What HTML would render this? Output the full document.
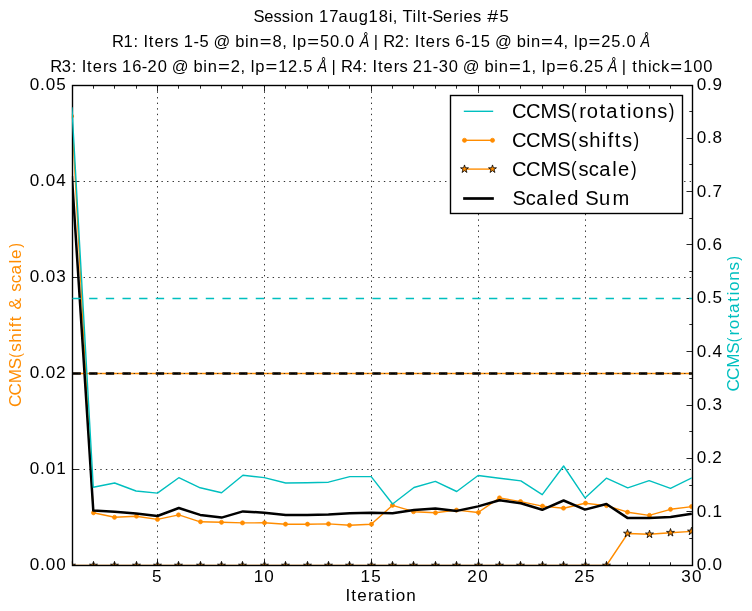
<!DOCTYPE html><html><head><meta charset="utf-8"><title>CCMS</title>
<style>html,body{margin:0;padding:0;background:#fff}svg{display:block;will-change:transform}text{font-family:"Liberation Sans",sans-serif;fill:#000}</style></head><body>
<svg width="752" height="611" viewBox="0 0 752 611">
<rect width="752" height="611" fill="#fff"/>
<defs><clipPath id="c"><rect x="71.9" y="85.5" width="620" height="480"/></clipPath><clipPath id="c2"><rect x="71.9" y="85.5" width="620" height="480"/></clipPath></defs>
<g stroke="#000" stroke-opacity="0.8" stroke-width="1" stroke-dasharray="1.39 4.17" fill="none">
<path d="M157.50 565.50V85.50"/>
<path d="M264.50 565.50V85.50"/>
<path d="M371.50 565.50V85.50"/>
<path d="M478.50 565.50V85.50"/>
<path d="M585.50 565.50V85.50"/>
<path d="M72.50 469.50H692.50"/>
<path d="M72.50 373.50H692.50"/>
<path d="M72.50 277.50H692.50"/>
<path d="M72.50 181.50H692.50"/>
</g>
<g clip-path="url(#c)" fill="none" stroke-linejoin="round">
<path d="M72.50 373.5H692.50" stroke="#ff8c00" stroke-width="1.39"/>
<polyline points="71.90,116.20 93.28,512.80 114.66,517.30 136.04,516.20 157.42,519.40 178.80,514.90 200.18,521.80 221.56,522.30 242.93,522.90 264.31,522.80 285.69,524.20 307.07,524.20 328.45,523.90 349.83,525.30 371.21,524.20 392.59,505.30 413.97,511.70 435.35,512.80 456.73,510.10 478.11,512.50 499.49,497.90 520.87,501.60 542.24,506.10 563.62,508.20 585.00,503.20 606.38,505.60 627.76,512.20 649.14,515.40 670.52,509.30 691.90,506.60" stroke="#ff8c00" stroke-width="1.39"/>
<circle cx="71.50" cy="116.20" r="2.08" fill="#ff8c00" stroke="#ff8c00" stroke-width="0.69"/>
<circle cx="93.50" cy="512.80" r="2.08" fill="#ff8c00" stroke="#ff8c00" stroke-width="0.69"/>
<circle cx="114.50" cy="517.30" r="2.08" fill="#ff8c00" stroke="#ff8c00" stroke-width="0.69"/>
<circle cx="136.50" cy="516.20" r="2.08" fill="#ff8c00" stroke="#ff8c00" stroke-width="0.69"/>
<circle cx="157.50" cy="519.40" r="2.08" fill="#ff8c00" stroke="#ff8c00" stroke-width="0.69"/>
<circle cx="178.50" cy="514.90" r="2.08" fill="#ff8c00" stroke="#ff8c00" stroke-width="0.69"/>
<circle cx="200.50" cy="521.80" r="2.08" fill="#ff8c00" stroke="#ff8c00" stroke-width="0.69"/>
<circle cx="221.50" cy="522.30" r="2.08" fill="#ff8c00" stroke="#ff8c00" stroke-width="0.69"/>
<circle cx="242.50" cy="522.90" r="2.08" fill="#ff8c00" stroke="#ff8c00" stroke-width="0.69"/>
<circle cx="264.50" cy="522.80" r="2.08" fill="#ff8c00" stroke="#ff8c00" stroke-width="0.69"/>
<circle cx="285.50" cy="524.20" r="2.08" fill="#ff8c00" stroke="#ff8c00" stroke-width="0.69"/>
<circle cx="307.50" cy="524.20" r="2.08" fill="#ff8c00" stroke="#ff8c00" stroke-width="0.69"/>
<circle cx="328.50" cy="523.90" r="2.08" fill="#ff8c00" stroke="#ff8c00" stroke-width="0.69"/>
<circle cx="349.50" cy="525.30" r="2.08" fill="#ff8c00" stroke="#ff8c00" stroke-width="0.69"/>
<circle cx="371.50" cy="524.20" r="2.08" fill="#ff8c00" stroke="#ff8c00" stroke-width="0.69"/>
<circle cx="392.50" cy="505.30" r="2.08" fill="#ff8c00" stroke="#ff8c00" stroke-width="0.69"/>
<circle cx="413.50" cy="511.70" r="2.08" fill="#ff8c00" stroke="#ff8c00" stroke-width="0.69"/>
<circle cx="435.50" cy="512.80" r="2.08" fill="#ff8c00" stroke="#ff8c00" stroke-width="0.69"/>
<circle cx="456.50" cy="510.10" r="2.08" fill="#ff8c00" stroke="#ff8c00" stroke-width="0.69"/>
<circle cx="478.50" cy="512.50" r="2.08" fill="#ff8c00" stroke="#ff8c00" stroke-width="0.69"/>
<circle cx="499.50" cy="497.90" r="2.08" fill="#ff8c00" stroke="#ff8c00" stroke-width="0.69"/>
<circle cx="520.50" cy="501.60" r="2.08" fill="#ff8c00" stroke="#ff8c00" stroke-width="0.69"/>
<circle cx="542.50" cy="506.10" r="2.08" fill="#ff8c00" stroke="#ff8c00" stroke-width="0.69"/>
<circle cx="563.50" cy="508.20" r="2.08" fill="#ff8c00" stroke="#ff8c00" stroke-width="0.69"/>
<circle cx="585.50" cy="503.20" r="2.08" fill="#ff8c00" stroke="#ff8c00" stroke-width="0.69"/>
<circle cx="606.50" cy="505.60" r="2.08" fill="#ff8c00" stroke="#ff8c00" stroke-width="0.69"/>
<circle cx="627.50" cy="512.20" r="2.08" fill="#ff8c00" stroke="#ff8c00" stroke-width="0.69"/>
<circle cx="649.50" cy="515.40" r="2.08" fill="#ff8c00" stroke="#ff8c00" stroke-width="0.69"/>
<circle cx="670.50" cy="509.30" r="2.08" fill="#ff8c00" stroke="#ff8c00" stroke-width="0.69"/>
<circle cx="691.50" cy="506.60" r="2.08" fill="#ff8c00" stroke="#ff8c00" stroke-width="0.69"/>
<polyline points="71.90,565.50 93.28,565.50 114.66,565.50 136.04,565.50 157.42,565.50 178.80,565.50 200.18,565.50 221.56,565.50 242.93,565.50 264.31,565.50 285.69,565.50 307.07,565.50 328.45,565.50 349.83,565.50 371.21,565.50 392.59,565.50 413.97,565.50 435.35,565.50 456.73,565.50 478.11,565.50 499.49,565.50 520.87,565.50 542.24,565.50 563.62,565.50 585.00,565.50 606.38,565.50 627.76,533.50 649.14,534.30 670.52,532.70 691.90,531.40" stroke="#ff8c00" stroke-width="1.39"/>
<polygon points="71.50,561.33 72.44,564.21 75.47,564.21 73.01,565.99 73.95,568.87 71.50,567.09 69.05,568.87 69.99,565.99 67.53,564.21 70.56,564.21" fill="#ff8c00" stroke="#000" stroke-width="0.8" stroke-linejoin="miter"/>
<polygon points="93.50,561.33 94.44,564.21 97.47,564.21 95.01,565.99 95.95,568.87 93.50,567.09 91.05,568.87 91.99,565.99 89.53,564.21 92.56,564.21" fill="#ff8c00" stroke="#000" stroke-width="0.8" stroke-linejoin="miter"/>
<polygon points="114.50,561.33 115.44,564.21 118.47,564.21 116.01,565.99 116.95,568.87 114.50,567.09 112.05,568.87 112.99,565.99 110.53,564.21 113.56,564.21" fill="#ff8c00" stroke="#000" stroke-width="0.8" stroke-linejoin="miter"/>
<polygon points="136.50,561.33 137.44,564.21 140.47,564.21 138.01,565.99 138.95,568.87 136.50,567.09 134.05,568.87 134.99,565.99 132.53,564.21 135.56,564.21" fill="#ff8c00" stroke="#000" stroke-width="0.8" stroke-linejoin="miter"/>
<polygon points="157.50,561.33 158.44,564.21 161.47,564.21 159.01,565.99 159.95,568.87 157.50,567.09 155.05,568.87 155.99,565.99 153.53,564.21 156.56,564.21" fill="#ff8c00" stroke="#000" stroke-width="0.8" stroke-linejoin="miter"/>
<polygon points="178.50,561.33 179.44,564.21 182.47,564.21 180.01,565.99 180.95,568.87 178.50,567.09 176.05,568.87 176.99,565.99 174.53,564.21 177.56,564.21" fill="#ff8c00" stroke="#000" stroke-width="0.8" stroke-linejoin="miter"/>
<polygon points="200.50,561.33 201.44,564.21 204.47,564.21 202.01,565.99 202.95,568.87 200.50,567.09 198.05,568.87 198.99,565.99 196.53,564.21 199.56,564.21" fill="#ff8c00" stroke="#000" stroke-width="0.8" stroke-linejoin="miter"/>
<polygon points="221.50,561.33 222.44,564.21 225.47,564.21 223.01,565.99 223.95,568.87 221.50,567.09 219.05,568.87 219.99,565.99 217.53,564.21 220.56,564.21" fill="#ff8c00" stroke="#000" stroke-width="0.8" stroke-linejoin="miter"/>
<polygon points="242.50,561.33 243.44,564.21 246.47,564.21 244.01,565.99 244.95,568.87 242.50,567.09 240.05,568.87 240.99,565.99 238.53,564.21 241.56,564.21" fill="#ff8c00" stroke="#000" stroke-width="0.8" stroke-linejoin="miter"/>
<polygon points="264.50,561.33 265.44,564.21 268.47,564.21 266.01,565.99 266.95,568.87 264.50,567.09 262.05,568.87 262.99,565.99 260.53,564.21 263.56,564.21" fill="#ff8c00" stroke="#000" stroke-width="0.8" stroke-linejoin="miter"/>
<polygon points="285.50,561.33 286.44,564.21 289.47,564.21 287.01,565.99 287.95,568.87 285.50,567.09 283.05,568.87 283.99,565.99 281.53,564.21 284.56,564.21" fill="#ff8c00" stroke="#000" stroke-width="0.8" stroke-linejoin="miter"/>
<polygon points="307.50,561.33 308.44,564.21 311.47,564.21 309.01,565.99 309.95,568.87 307.50,567.09 305.05,568.87 305.99,565.99 303.53,564.21 306.56,564.21" fill="#ff8c00" stroke="#000" stroke-width="0.8" stroke-linejoin="miter"/>
<polygon points="328.50,561.33 329.44,564.21 332.47,564.21 330.01,565.99 330.95,568.87 328.50,567.09 326.05,568.87 326.99,565.99 324.53,564.21 327.56,564.21" fill="#ff8c00" stroke="#000" stroke-width="0.8" stroke-linejoin="miter"/>
<polygon points="349.50,561.33 350.44,564.21 353.47,564.21 351.01,565.99 351.95,568.87 349.50,567.09 347.05,568.87 347.99,565.99 345.53,564.21 348.56,564.21" fill="#ff8c00" stroke="#000" stroke-width="0.8" stroke-linejoin="miter"/>
<polygon points="371.50,561.33 372.44,564.21 375.47,564.21 373.01,565.99 373.95,568.87 371.50,567.09 369.05,568.87 369.99,565.99 367.53,564.21 370.56,564.21" fill="#ff8c00" stroke="#000" stroke-width="0.8" stroke-linejoin="miter"/>
<polygon points="392.50,561.33 393.44,564.21 396.47,564.21 394.01,565.99 394.95,568.87 392.50,567.09 390.05,568.87 390.99,565.99 388.53,564.21 391.56,564.21" fill="#ff8c00" stroke="#000" stroke-width="0.8" stroke-linejoin="miter"/>
<polygon points="413.50,561.33 414.44,564.21 417.47,564.21 415.01,565.99 415.95,568.87 413.50,567.09 411.05,568.87 411.99,565.99 409.53,564.21 412.56,564.21" fill="#ff8c00" stroke="#000" stroke-width="0.8" stroke-linejoin="miter"/>
<polygon points="435.50,561.33 436.44,564.21 439.47,564.21 437.01,565.99 437.95,568.87 435.50,567.09 433.05,568.87 433.99,565.99 431.53,564.21 434.56,564.21" fill="#ff8c00" stroke="#000" stroke-width="0.8" stroke-linejoin="miter"/>
<polygon points="456.50,561.33 457.44,564.21 460.47,564.21 458.01,565.99 458.95,568.87 456.50,567.09 454.05,568.87 454.99,565.99 452.53,564.21 455.56,564.21" fill="#ff8c00" stroke="#000" stroke-width="0.8" stroke-linejoin="miter"/>
<polygon points="478.50,561.33 479.44,564.21 482.47,564.21 480.01,565.99 480.95,568.87 478.50,567.09 476.05,568.87 476.99,565.99 474.53,564.21 477.56,564.21" fill="#ff8c00" stroke="#000" stroke-width="0.8" stroke-linejoin="miter"/>
<polygon points="499.50,561.33 500.44,564.21 503.47,564.21 501.01,565.99 501.95,568.87 499.50,567.09 497.05,568.87 497.99,565.99 495.53,564.21 498.56,564.21" fill="#ff8c00" stroke="#000" stroke-width="0.8" stroke-linejoin="miter"/>
<polygon points="520.50,561.33 521.44,564.21 524.47,564.21 522.01,565.99 522.95,568.87 520.50,567.09 518.05,568.87 518.99,565.99 516.53,564.21 519.56,564.21" fill="#ff8c00" stroke="#000" stroke-width="0.8" stroke-linejoin="miter"/>
<polygon points="542.50,561.33 543.44,564.21 546.47,564.21 544.01,565.99 544.95,568.87 542.50,567.09 540.05,568.87 540.99,565.99 538.53,564.21 541.56,564.21" fill="#ff8c00" stroke="#000" stroke-width="0.8" stroke-linejoin="miter"/>
<polygon points="563.50,561.33 564.44,564.21 567.47,564.21 565.01,565.99 565.95,568.87 563.50,567.09 561.05,568.87 561.99,565.99 559.53,564.21 562.56,564.21" fill="#ff8c00" stroke="#000" stroke-width="0.8" stroke-linejoin="miter"/>
<polygon points="585.50,561.33 586.44,564.21 589.47,564.21 587.01,565.99 587.95,568.87 585.50,567.09 583.05,568.87 583.99,565.99 581.53,564.21 584.56,564.21" fill="#ff8c00" stroke="#000" stroke-width="0.8" stroke-linejoin="miter"/>
<polygon points="606.50,561.33 607.44,564.21 610.47,564.21 608.01,565.99 608.95,568.87 606.50,567.09 604.05,568.87 604.99,565.99 602.53,564.21 605.56,564.21" fill="#ff8c00" stroke="#000" stroke-width="0.8" stroke-linejoin="miter"/>
<polygon points="627.50,529.33 628.44,532.21 631.47,532.21 629.01,533.99 629.95,536.87 627.50,535.09 625.05,536.87 625.99,533.99 623.53,532.21 626.56,532.21" fill="#ff8c00" stroke="#000" stroke-width="0.8" stroke-linejoin="miter"/>
<polygon points="649.50,530.13 650.44,533.01 653.47,533.01 651.01,534.79 651.95,537.67 649.50,535.89 647.05,537.67 647.99,534.79 645.53,533.01 648.56,533.01" fill="#ff8c00" stroke="#000" stroke-width="0.8" stroke-linejoin="miter"/>
<polygon points="670.50,528.53 671.44,531.41 674.47,531.41 672.01,533.19 672.95,536.07 670.50,534.29 668.05,536.07 668.99,533.19 666.53,531.41 669.56,531.41" fill="#ff8c00" stroke="#000" stroke-width="0.8" stroke-linejoin="miter"/>
<polygon points="691.50,527.23 692.44,530.11 695.47,530.11 693.01,531.89 693.95,534.77 691.50,532.99 689.05,534.77 689.99,531.89 687.53,530.11 690.56,530.11" fill="#ff8c00" stroke="#000" stroke-width="0.8" stroke-linejoin="miter"/>
<polyline points="71.90,176.00 93.28,510.60 114.66,511.70 136.04,513.60 157.42,516.00 178.80,508.00 200.18,514.90 221.56,517.60 242.93,511.40 264.31,512.70 285.69,514.90 307.07,514.90 328.45,514.40 349.83,513.30 371.21,512.80 392.59,513.30 413.97,510.10 435.35,508.50 456.73,510.90 478.11,506.40 499.49,500.30 520.87,503.20 542.24,509.80 563.62,500.50 585.00,509.60 606.38,504.00 627.76,518.10 649.14,518.10 670.52,517.00 691.90,513.80" stroke="#000" stroke-width="2.5"/>
<path d="M72.50 373.5H692.50" stroke="#000" stroke-width="2.6" stroke-dasharray="8.33 8.33"/>
<path d="M72.50 373.5H692.50" stroke="#222" stroke-width="0.9" stroke-dasharray="1.39 4.17"/>
</g>
<g stroke="#000" stroke-width="1" stroke-opacity="0.85" fill="none">
<path d="M93.50 565.50v-3.20M93.50 85.50v3.20"/>
<path d="M114.50 565.50v-3.20M114.50 85.50v3.20"/>
<path d="M136.50 565.50v-3.20M136.50 85.50v3.20"/>
<path d="M157.50 565.50v-6.00M157.50 85.50v6.00"/>
<path d="M178.50 565.50v-3.20M178.50 85.50v3.20"/>
<path d="M200.50 565.50v-3.20M200.50 85.50v3.20"/>
<path d="M221.50 565.50v-3.20M221.50 85.50v3.20"/>
<path d="M242.50 565.50v-3.20M242.50 85.50v3.20"/>
<path d="M264.50 565.50v-6.00M264.50 85.50v6.00"/>
<path d="M285.50 565.50v-3.20M285.50 85.50v3.20"/>
<path d="M307.50 565.50v-3.20M307.50 85.50v3.20"/>
<path d="M328.50 565.50v-3.20M328.50 85.50v3.20"/>
<path d="M349.50 565.50v-3.20M349.50 85.50v3.20"/>
<path d="M371.50 565.50v-6.00M371.50 85.50v6.00"/>
<path d="M392.50 565.50v-3.20M392.50 85.50v3.20"/>
<path d="M413.50 565.50v-3.20M413.50 85.50v3.20"/>
<path d="M435.50 565.50v-3.20M435.50 85.50v3.20"/>
<path d="M456.50 565.50v-3.20M456.50 85.50v3.20"/>
<path d="M478.50 565.50v-6.00M478.50 85.50v6.00"/>
<path d="M499.50 565.50v-3.20M499.50 85.50v3.20"/>
<path d="M520.50 565.50v-3.20M520.50 85.50v3.20"/>
<path d="M542.50 565.50v-3.20M542.50 85.50v3.20"/>
<path d="M563.50 565.50v-3.20M563.50 85.50v3.20"/>
<path d="M585.50 565.50v-6.00M585.50 85.50v6.00"/>
<path d="M606.50 565.50v-3.20M606.50 85.50v3.20"/>
<path d="M627.50 565.50v-3.20M627.50 85.50v3.20"/>
<path d="M649.50 565.50v-3.20M649.50 85.50v3.20"/>
<path d="M670.50 565.50v-3.20M670.50 85.50v3.20"/>
<path d="M72.50 565.50h6.00"/>
<path d="M72.50 469.50h6.00"/>
<path d="M72.50 373.50h6.00"/>
<path d="M72.50 277.50h6.00"/>
<path d="M72.50 181.50h6.00"/>
<path d="M72.50 85.50h6.00"/>
<path d="M692.50 565.50h-6.00"/>
<path d="M692.50 538.50h-3.20"/>
<path d="M692.50 511.50h-6.00"/>
<path d="M692.50 485.50h-3.20"/>
<path d="M692.50 458.50h-6.00"/>
<path d="M692.50 431.50h-3.20"/>
<path d="M692.50 405.50h-6.00"/>
<path d="M692.50 378.50h-3.20"/>
<path d="M692.50 351.50h-6.00"/>
<path d="M692.50 324.50h-3.20"/>
<path d="M692.50 298.50h-6.00"/>
<path d="M692.50 271.50h-3.20"/>
<path d="M692.50 244.50h-6.00"/>
<path d="M692.50 218.50h-3.20"/>
<path d="M692.50 191.50h-6.00"/>
<path d="M692.50 164.50h-3.20"/>
<path d="M692.50 138.50h-6.00"/>
<path d="M692.50 111.50h-3.20"/>
<path d="M692.50 85.50h-6.00"/>
</g>
<rect x="72.5" y="85.5" width="620" height="480" fill="none" stroke="#000" stroke-width="1.39"/>
<g clip-path="url(#c2)" fill="none" stroke-linejoin="round">
<polyline points="71.90,107.20 93.28,487.20 114.66,483.00 136.04,491.00 157.42,493.10 178.80,477.70 200.18,487.80 221.56,492.80 242.93,475.30 264.31,477.60 285.69,483.00 307.07,482.70 328.45,482.20 349.83,476.60 371.21,476.60 392.59,504.00 413.97,487.50 435.35,481.40 456.73,491.50 478.11,475.50 499.49,478.20 520.87,480.90 542.24,494.70 563.62,466.00 585.00,497.90 606.38,478.20 627.76,487.80 649.14,480.60 670.52,488.30 691.90,477.90" stroke="#00bfbf" stroke-width="1.39"/>
<path d="M72.50 298.5H692.50" stroke="#00bfbf" stroke-width="1.39" stroke-dasharray="8.33 8.33"/>
</g>
<text transform="translate(29.20 570.20) scale(1.03 1)" x="0.53 10.55 15.97 26.26" font-size="16.6">0.00</text>
<text transform="translate(29.20 474.20) scale(1.03 1)" x="0.53 10.55 15.97 26.18" font-size="16.6">0.01</text>
<text transform="translate(29.20 378.20) scale(1.03 1)" x="0.53 10.55 15.97 26.05" font-size="16.6">0.02</text>
<text transform="translate(29.20 282.20) scale(1.03 1)" x="0.53 10.55 15.97 26.28" font-size="16.6">0.03</text>
<text transform="translate(29.20 186.20) scale(1.03 1)" x="0.53 10.55 15.97 26.26" font-size="16.6">0.04</text>
<text transform="translate(29.20 90.20) scale(1.03 1)" x="0.53 10.55 15.97 26.20" font-size="16.6">0.05</text>
<text transform="translate(696.10 570.10) scale(1.03 1)" x="0.53 10.55 15.97" font-size="16.6">0.0</text>
<text transform="translate(696.10 516.77) scale(1.03 1)" x="0.53 10.55 15.89" font-size="16.6">0.1</text>
<text transform="translate(696.10 463.43) scale(1.03 1)" x="0.53 10.55 15.75" font-size="16.6">0.2</text>
<text transform="translate(696.10 410.10) scale(1.03 1)" x="0.53 10.55 15.99" font-size="16.6">0.3</text>
<text transform="translate(696.10 356.77) scale(1.03 1)" x="0.53 10.55 15.96" font-size="16.6">0.4</text>
<text transform="translate(696.10 303.43) scale(1.03 1)" x="0.53 10.55 15.90" font-size="16.6">0.5</text>
<text transform="translate(696.10 250.10) scale(1.03 1)" x="0.53 10.55 15.97" font-size="16.6">0.6</text>
<text transform="translate(696.10 196.77) scale(1.03 1)" x="0.53 10.55 15.93" font-size="16.6">0.7</text>
<text transform="translate(696.10 143.43) scale(1.03 1)" x="0.53 10.55 15.97" font-size="16.6">0.8</text>
<text transform="translate(696.10 90.10) scale(1.03 1)" x="0.53 10.55 15.92" font-size="16.6">0.9</text>
<text transform="translate(151.62 582.00) scale(1.03 1)" x="0.46" font-size="16.6">5</text>
<text transform="translate(253.21 582.00) scale(1.03 1)" x="0.45 10.82" font-size="16.6">10</text>
<text transform="translate(360.11 582.00) scale(1.03 1)" x="0.45 10.76" font-size="16.6">15</text>
<text transform="translate(467.00 582.00) scale(1.03 1)" x="0.31 10.82" font-size="16.6">20</text>
<text transform="translate(573.90 582.00) scale(1.03 1)" x="0.31 10.76" font-size="16.6">25</text>
<text transform="translate(680.80 582.00) scale(1.03 1)" x="0.55 10.82" font-size="16.6">30</text>
<text transform="translate(345.50 600.70) scale(1.03 1)" x="0.08 5.60 11.51 21.96 27.47 38.47 44.40 48.82 58.93" font-size="16.6">Iteration</text>
<text transform="translate(21.20 406.60) rotate(-90) translate(0.00 0) scale(1.03 1)" x="-0.43 10.86 22.67 36.25 53.32 62.10 72.24 77.08 82.85 88.37 94.38 106.13 111.45 119.81 128.34 138.92 143.40" font-size="16.6" style="fill:#ff8c00">CCMSshift &amp; scale</text>
<text transform="translate(21.20 406.60) rotate(-90) translate(48.79 0) scale(0.8487 1)" font-size="16.6" style="fill:#ff8c00">(</text>
<text transform="translate(21.20 406.60) rotate(-90) translate(158.81 0) scale(0.8487 1)" font-size="16.6" style="fill:#ff8c00">)</text>
<text transform="translate(738.70 391.10) rotate(-90) translate(0.00 0) scale(1.03 1)" x="-0.43 10.86 22.67 36.25 54.03 60.13 70.52 75.78 86.78 92.71 97.13 107.24 117.13" font-size="16.6" style="fill:#00bfbf">CCMSrotations</text>
<text transform="translate(738.70 391.10) rotate(-90) translate(48.79 0) scale(0.8487 1)" font-size="16.6" style="fill:#00bfbf">(</text>
<text transform="translate(738.70 391.10) rotate(-90) translate(130.40 0) scale(0.8487 1)" font-size="16.6" style="fill:#00bfbf">)</text>
<text transform="translate(253.90 22.30) scale(1 1)" x="-0.44 10.24 19.70 27.88 36.34 40.57 50.37 59.90 65.21 75.25 84.50 94.85 104.74 114.73 124.80 134.74 138.79 143.74 148.49 158.68 163.03 167.79 173.29 178.43 189.10 199.27 205.30 209.58 219.04 227.15 245.63" font-size="16.5">Session 17aug18i, Tilt-Series 5</text>
<text transform="translate(487.16 22.30) scale(1.19 1)" font-size="16.5">#</text>
<text transform="translate(112.20 47.10) scale(1 1)" x="-0.25 11.23 21.25 26.19 31.20 36.55 42.24 52.41 58.15 66.26 71.57 81.32 87.24 96.89 101.39 117.58 123.07 132.90 137.32 160.41 170.04 174.99 180.33 184.83 207.80 217.85 227.63 232.83" font-size="16.5">R1: Iters 1-5 @ bin8, lp50.0</text>
<text transform="translate(259.73 47.10) scale(1.226 1)" font-size="16.5">=</text>
<text transform="translate(307.18 47.10) scale(1.226 1)" font-size="16.5">=</text>
<text transform="translate(373.30 47.10) scale(1 1)" x="0.50 5.29 10.03 21.38 31.53 36.47 41.48 46.83 52.52 62.69 68.43 76.54 81.93 91.60 97.50 107.51 117.16 121.66 137.85 143.34 153.16 157.59 180.68 190.31 195.26 200.59 205.10 227.92 238.06 247.90 253.10" font-size="16.5">| R2: Iters 6-15 @ bin4, lp25.0</text>
<text transform="translate(541.10 47.10) scale(1.226 1)" font-size="16.5">=</text>
<text transform="translate(588.55 47.10) scale(1.226 1)" font-size="16.5">=</text>
<text transform="translate(50.50 71.80) scale(1 1)" x="-0.25 11.33 21.25 26.19 31.20 36.55 42.24 52.41 58.15 66.26 71.57 81.64 91.31 97.09 107.28 116.87 121.37 137.56 143.04 152.87 157.30 180.18 190.02 194.96 200.30 204.81 227.76 237.62 247.61 252.75" font-size="16.5">R3: Iters 16-20 @ bin2, lp12.5</text>
<text transform="translate(218.01 71.80) scale(1.226 1)" font-size="16.5">=</text>
<text transform="translate(265.46 71.80) scale(1.226 1)" font-size="16.5">=</text>
<text transform="translate(331.10 71.80) scale(1 1)" x="0.50 5.29 10.03 21.59 31.53 36.47 41.48 46.83 52.52 62.69 68.43 76.54 81.72 91.84 101.59 107.60 117.56 127.15 131.65 147.84 153.32 163.15 167.58 190.58 200.30 205.24 210.58 215.09 238.12 247.90 252.89 263.03" font-size="16.5">| R4: Iters 21-30 @ bin1, lp6.25</text>
<text transform="translate(508.89 71.80) scale(1.226 1)" font-size="16.5">=</text>
<text transform="translate(556.34 71.80) scale(1.226 1)" font-size="16.5">=</text>
<text transform="translate(621.20 71.80) scale(1 1)" x="0.50 5.29 11.02 16.83 26.74 30.75 39.92 61.95 72.02 82.01" font-size="16.5">| thick100</text>
<text transform="translate(670.35 71.80) scale(1.226 1)" font-size="16.5">=</text>
<text x="359.80" y="47.10" font-size="17" font-style="italic" textLength="9.6" lengthAdjust="spacingAndGlyphs">Å</text>
<text x="640.40" y="47.10" font-size="17" font-style="italic" textLength="9.6" lengthAdjust="spacingAndGlyphs">Å</text>
<text x="317.60" y="71.80" font-size="17" font-style="italic" textLength="9.6" lengthAdjust="spacingAndGlyphs">Å</text>
<text x="607.80" y="71.80" font-size="17" font-style="italic" textLength="9.6" lengthAdjust="spacingAndGlyphs">Å</text>
<rect x="450.5" y="95.5" width="232" height="118" fill="#fff" stroke="#000" stroke-width="1.39"/>
<path d="M464.5 111.3H492.5" stroke="#00bfbf" stroke-width="1.39" stroke-linecap="square"/>
<path d="M464.5 140.3H492.5" stroke="#ff8c00" stroke-width="1.39" stroke-linecap="square"/>
<circle cx="464.50" cy="140.3" r="2.08" fill="#ff8c00" stroke="#ff8c00" stroke-width="0.69"/>
<circle cx="492.50" cy="140.3" r="2.08" fill="#ff8c00" stroke="#ff8c00" stroke-width="0.69"/>
<path d="M464.5 169.1H492.5" stroke="#ff8c00" stroke-width="1.39" stroke-linecap="square"/>
<polygon points="464.50,164.93 465.44,167.81 468.47,167.81 466.01,169.59 466.95,172.47 464.50,170.69 462.05,172.47 462.99,169.59 460.53,167.81 463.56,167.81" fill="#ff8c00" stroke="#000" stroke-width="0.8" stroke-linejoin="miter"/>
<polygon points="492.50,164.93 493.44,167.81 496.47,167.81 494.01,169.59 494.95,172.47 492.50,170.69 490.05,172.47 490.99,169.59 488.53,167.81 491.56,167.81" fill="#ff8c00" stroke="#000" stroke-width="0.8" stroke-linejoin="miter"/>
<path d="M464.5 198.5H492.5" stroke="#000" stroke-width="2.7" stroke-linecap="square"/>
<text transform="translate(512.40 117.80) scale(0.97 1)" x="-0.42 13.97 29.03 46.30 68.91 76.72 89.91 96.67 110.63 118.17 123.87 136.75 149.33" font-size="20.8">CCMSrotations</text>
<text transform="translate(570.95 117.80) scale(0.8128 1)" font-size="20.8">(</text>
<text transform="translate(668.87 117.80) scale(0.8128 1)" font-size="20.8">)</text>
<text transform="translate(512.40 146.80) scale(0.97 1)" x="-0.42 13.97 29.03 46.30 68.03 79.22 92.09 98.26 105.61 112.91" font-size="20.8">CCMSshifts</text>
<text transform="translate(570.95 146.80) scale(0.8128 1)" font-size="20.8">(</text>
<text transform="translate(633.54 146.80) scale(0.8128 1)" font-size="20.8">)</text>
<text transform="translate(512.40 175.80) scale(0.97 1)" x="-0.42 13.97 29.03 46.30 68.03 78.69 89.57 102.98 108.76" font-size="20.8">CCMSscale</text>
<text transform="translate(570.95 175.80) scale(0.8128 1)" font-size="20.8">(</text>
<text transform="translate(631.12 175.80) scale(0.8128 1)" font-size="20.8">)</text>
<text transform="translate(512.80 204.60) scale(0.97 1)" x="-0.28 13.32 24.20 37.61 43.39 56.10 68.56 74.83 88.91 102.71" font-size="20.8">Scaled Sum</text>
</svg></body></html>
